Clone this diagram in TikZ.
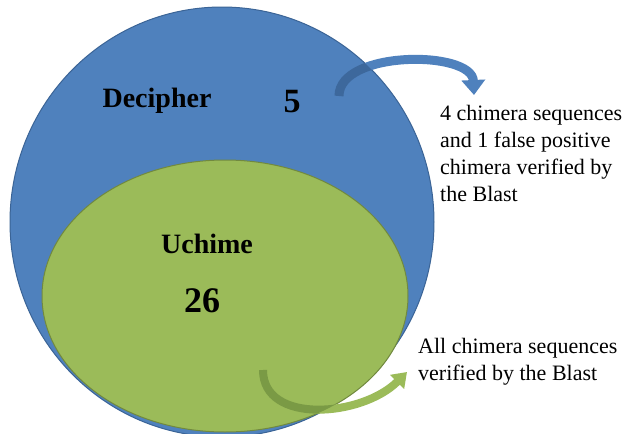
\documentclass[tikz,border=0pt]{standalone}
\usepackage{fontspec}
\setmainfont{Liberation Serif}
\usetikzlibrary{arrows.meta}
\definecolor{decblue}{HTML}{4F81BD}
\definecolor{decline}{HTML}{3B6496}
\definecolor{decdark}{HTML}{3D689C}
\definecolor{uchgreen}{HTML}{9BBB59}
\definecolor{uchline}{HTML}{71893F}
\definecolor{uchdark}{HTML}{7A9A45}
\begin{document}
\begin{tikzpicture}[x=1pt,y=-1pt,
  setlabel/.style={font=\fontsize{28}{34}\selectfont\bfseries},
  countlabel/.style={font=\fontsize{34}{40}\selectfont\bfseries},
  note/.style={font=\fontsize{22}{27}\selectfont,align=left,anchor=north west},
  decarrow/.style={line width=9pt,-{Triangle[width=23pt,length=15pt]}},
  ucharrow/.style={line width=8pt,-{Triangle[width=19pt,length=14pt]}}]
\tikzstyle{every node}+=[inner sep=0pt]
\useasboundingbox [fill=white] (0,0) rectangle (622,434);
\draw [decline,fill=decblue,line width=1pt] (222,222) ellipse (212pt and 215pt);
\draw [uchline,fill=uchgreen,line width=1pt] (225,296) ellipse (183pt and 136pt);
\node [setlabel,anchor=base] (decipher) at (157,107) {Decipher};
\node [countlabel,anchor=base] (decnum) at (292,112) {5};
\node [setlabel,anchor=base] (uchime) at (207,253) {Uchime};
\node [countlabel,anchor=base,font=\fontsize{36}{42}\selectfont\bfseries] (uchnum) at (202,312) {26};
\node [note] (decnote) at (440,105) {4 chimera sequences\\and 1 false positive\\chimera verified by\\the Blast};
\node [note] (uchnote) at (418,338) {All chimera sequences\\verified by the Blast};
\coordinate (decfrom) at (339,96);
\coordinate (decto) at (474,95);
\coordinate (uchfrom) at (263,370);
\coordinate (uchto) at (407,372);
% arrows, darker where they lie on their own set
\draw [decarrow,decblue] (decfrom) .. controls (339,50) and (472,50) .. (decto);
\begin{scope}
\clip (222,222) ellipse (212pt and 215pt);
\draw [decarrow,decdark] (decfrom) .. controls (339,50) and (472,50) .. (decto);
\end{scope}
\draw [ucharrow,uchgreen] (uchfrom) .. controls (263,425) and (362,417) .. (uchto);
\begin{scope}
\clip (225,296) ellipse (183pt and 136pt);
\draw [ucharrow,uchdark] (uchfrom) .. controls (263,425) and (362,417) .. (uchto);
\end{scope}
\end{tikzpicture}
\end{document}
